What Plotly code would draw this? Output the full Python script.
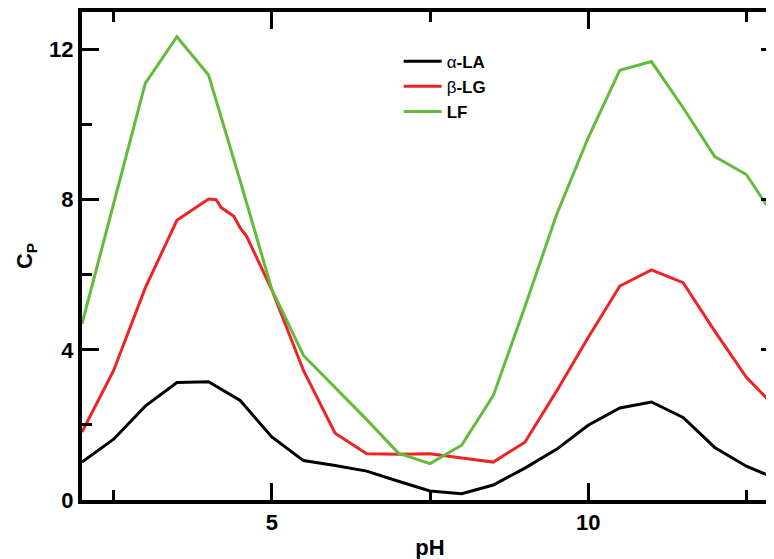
import plotly.graph_objects as go

ph = [2, 2.5, 3, 3.5, 4, 4.5, 5, 5.5, 6, 6.5, 7, 7.5, 8, 8.5, 9, 9.5, 10, 10.5, 11, 11.5, 12, 12.5, 13]
cp_ala = [1.01, 1.62, 2.50, 3.13, 3.15, 2.65, 1.68, 1.05, 0.92, 0.77, 0.50, 0.24, 0.17, 0.40, 0.85, 1.35, 1.99, 2.45, 2.61, 2.20, 1.40, 0.90, 0.55]

ph_blg = [2, 2.5, 3, 3.5, 4, 4.12, 4.2, 4.4, 4.5, 4.6, 5, 5.5, 6, 6.5, 7, 7.5, 8, 8.5, 9, 9.5, 10, 10.5, 11, 11.5, 12, 12.5, 13]
cp_blg = [1.81, 3.45, 5.65, 7.45, 8.02, 8.0, 7.79, 7.56, 7.25, 7.03, 5.60, 3.45, 1.78, 1.23, 1.22, 1.23, 1.12, 1.01, 1.54, 2.90, 4.33, 5.70, 6.13, 5.79, 4.50, 3.27, 2.40]

cp_lf = [4.69, 7.90, 11.10, 12.34, 11.32, 8.50, 5.61, 3.85, 3.00, 2.14, 1.25, 0.97, 1.46, 2.78, 5.15, 7.60, 9.65, 11.45, 11.68, 10.45, 9.15, 8.67, 7.40]

names = ["α<b>-LA</b>", "β<b>-LG</b>", "<b>LF</b>"]
colors = ["#000000", "#EE2424", "#62BC3A"]

x_range = [2, 13]
y_range = [0, 13]

fig = go.Figure()
fig.add_trace(go.Scatter(x=ph, y=cp_ala, mode="lines", name=names[0],
                         line=dict(color=colors[0], width=3)))
fig.add_trace(go.Scatter(x=ph_blg, y=cp_blg, mode="lines", name=names[1],
                         line=dict(color=colors[1], width=3)))
fig.add_trace(go.Scatter(x=ph, y=cp_lf, mode="lines", name=names[2],
                         line=dict(color=colors[2], width=3)))

tickfont = dict(family="Liberation Sans", size=22, color="black", weight="bold")

fig.update_layout(
    width=774, height=559,
    margin=dict(l=74, r=0, t=4, b=67),
    paper_bgcolor="white", plot_bgcolor="white",
    showlegend=True,
    legend=dict(x=0.455, y=0.935, xanchor="left", yanchor="top",
                bgcolor="rgba(0,0,0,0)", itemwidth=38,
                font=dict(family="Liberation Sans", size=17, color="black")),
    xaxis=dict(range=x_range, showgrid=False, zeroline=False,
               showline=True, linewidth=4, linecolor="black", mirror="ticks",
               ticks="inside", ticklen=17, tickwidth=3, tickcolor="black",
               tick0=0, dtick=5, tickfont=tickfont,
               minor=dict(dtick=2.5, tick0=0, ticks="inside", ticklen=10, tickwidth=3, tickcolor="black"),
               title=dict(text="<b>pH</b>", font=dict(family="Liberation Sans", size=22, color="black"),
                          standoff=6)),
    yaxis=dict(range=y_range, showgrid=False, zeroline=False,
               showline=True, linewidth=4, linecolor="black", mirror="ticks",
               ticks="inside", ticklen=17, tickwidth=3, tickcolor="black",
               tick0=0, dtick=4, tickfont=tickfont,
               minor=dict(dtick=2, tick0=0, ticks="inside", ticklen=10, tickwidth=3, tickcolor="black"),
               title=dict(text="<b>C<sub>P</sub></b>", font=dict(family="Liberation Sans", size=22, color="black"),
                          standoff=11)),
)

fig.write_html("out.html")
